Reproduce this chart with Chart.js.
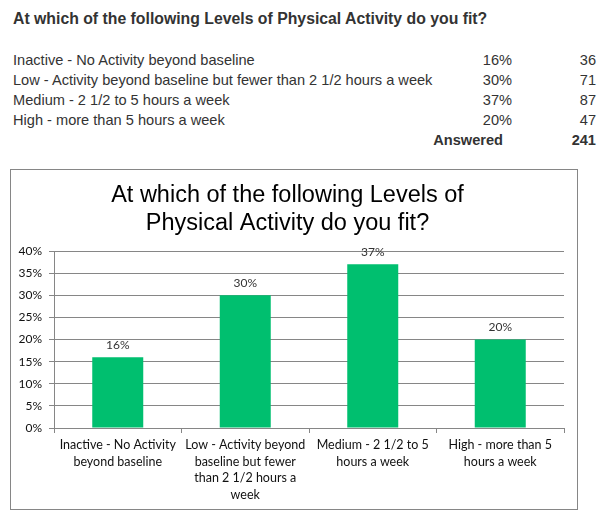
<!DOCTYPE html>
<html>
<head>
<meta charset="utf-8">
<script src="https://cdn.jsdelivr.net/npm/chart.js@4.4.1/dist/chart.umd.min.js"></script>
<style>
  html, body { margin: 0; padding: 0; background: #fff; }
  body { width: 608px; height: 528px; position: relative; overflow: hidden; font-family: "Liberation Sans", Arial, sans-serif; color: #333; }
  #heading { position: absolute; left: 13px; top: 9px; font-size: 15.8px; font-weight: bold; white-space: nowrap; line-height: 20px; }
  .row { position: absolute; left: 13px; width: 583px; height: 20px; line-height: 20px; font-size: 14.6px; white-space: nowrap; }
  .row .lab { position: absolute; left: 0; }
  .row .pct { position: absolute; right: 84px; }
  .row .cnt { position: absolute; right: 0; }
  .row.bold { font-weight: bold; }
  .row.bold .pct { right: 93px; }
  #box { position: absolute; left: 10px; top: 169px; width: 566px; height: 339px; border: 1px solid #868686; }
  #wrap { position: absolute; left: 0; top: 0; width: 566px; height: 339px; }
</style>
</head>
<body>
<div id="heading"></div>
<div id="table"></div>
<div id="box"><div id="wrap"><canvas id="c"></canvas></div></div>
<script>
const questionTitle = "At which of the following Levels of Physical Activity do you fit?";
const chartTitleLines = ["At which of the following Levels of", "Physical Activity do you fit?"];
const categories = [
  "Inactive - No Activity beyond baseline",
  "Low - Activity beyond baseline but fewer than 2 1/2 hours a week",
  "Medium - 2 1/2 to 5 hours a week",
  "High - more than 5 hours a week"
];
const axisLabelLines = [
  ["Inactive - No Activity", "beyond baseline"],
  ["Low - Activity beyond", "baseline but fewer", "than 2 1/2 hours a", "week"],
  ["Medium - 2 1/2 to 5", "hours a week"],
  ["High - more than 5", "hours a week"]
];
const percentValues = [16, 30, 37, 20];
const responseCounts = [36, 71, 87, 47];
const answeredTotal = 241;
const yTicks = [0, 5, 10, 15, 20, 25, 30, 35, 40];

// top table
document.getElementById('heading').textContent = questionTitle;
const table = document.getElementById('table');
categories.forEach((c, i) => {
  const r = document.createElement('div');
  r.className = 'row';
  r.style.top = (50 + i * 20) + 'px';
  r.innerHTML = '<span class="lab"></span><span class="pct"></span><span class="cnt"></span>';
  r.querySelector('.lab').textContent = c;
  r.querySelector('.pct').textContent = percentValues[i] + '%';
  r.querySelector('.cnt').textContent = responseCounts[i];
  table.appendChild(r);
});
const ans = document.createElement('div');
ans.className = 'row bold';
ans.style.top = (50 + 4 * 20) + 'px';
ans.innerHTML = '<span class="pct">Answered</span><span class="cnt">' + answeredTotal + '</span>';
table.appendChild(ans);

const chartFont = '"Lato", "Open Sans", sans-serif';
const gridColor = '#868686';

const valueLabels = {
  id: 'valueLabels',
  afterDatasetsDraw(chart) {
    const ctx = chart.ctx;
    const meta = chart.getDatasetMeta(0);
    ctx.save();
    ctx.font = '12px ' + chartFont;
    ctx.fillStyle = '#333';
    ctx.textAlign = 'center';
    ctx.textBaseline = 'middle';
    meta.data.forEach((bar, i) => {
      ctx.fillText(percentValues[i] + '%', bar.x, bar.y - 12);
    });
    ctx.restore();
  }
};

new Chart(document.getElementById('c'), {
  type: 'bar',
  data: {
    labels: axisLabelLines,
    datasets: [{
      data: percentValues,
      backgroundColor: '#00BF6F',
      borderWidth: 0,
      categoryPercentage: 0.8,
      barPercentage: 0.5
    }]
  },
  options: {
    responsive: true,
    maintainAspectRatio: false,
    animation: false,
    events: [],
    layout: { padding: { left: 0, right: 13, top: 0, bottom: 0 } },
    plugins: {
      legend: { display: false },
      tooltip: { enabled: false },
      title: {
        display: true,
        text: chartTitleLines,
        color: '#000',
        font: { family: '"Liberation Sans", Arial, sans-serif', size: 23.5, weight: 'normal', lineHeight: 1.2 },
        padding: { top: 11, bottom: 13.6 }
      }
    },
    scales: {
      x: {
        type: 'category',
        offset: true,
        grid: { display: true, drawOnChartArea: false, drawTicks: true, tickLength: 5, color: gridColor, offset: true },
        border: { display: true, color: gridColor, width: 1 },
        ticks: {
          color: '#111',
          font: { family: chartFont, size: 12.5, lineHeight: 1.32 },
          padding: 4,
          maxRotation: 0,
          minRotation: 0,
          autoSkip: false
        },
        afterFit(scale) { scale.height = 81; }
      },
      y: {
        min: 0,
        max: 40,
        afterBuildTicks(scale) { scale.ticks = yTicks.map(v => ({ value: v })); },
        grid: { color: gridColor, drawTicks: true, tickLength: 5, lineWidth: 1 },
        border: { display: true, color: gridColor, width: 1 },
        ticks: {
          color: '#111',
          font: { family: chartFont, size: 12 },
          padding: 7,
          callback: v => v + '%'
        },
        afterFit(scale) { scale.width = 43; }
      }
    }
  },
  plugins: [valueLabels]
});
</script>
</body>
</html>
